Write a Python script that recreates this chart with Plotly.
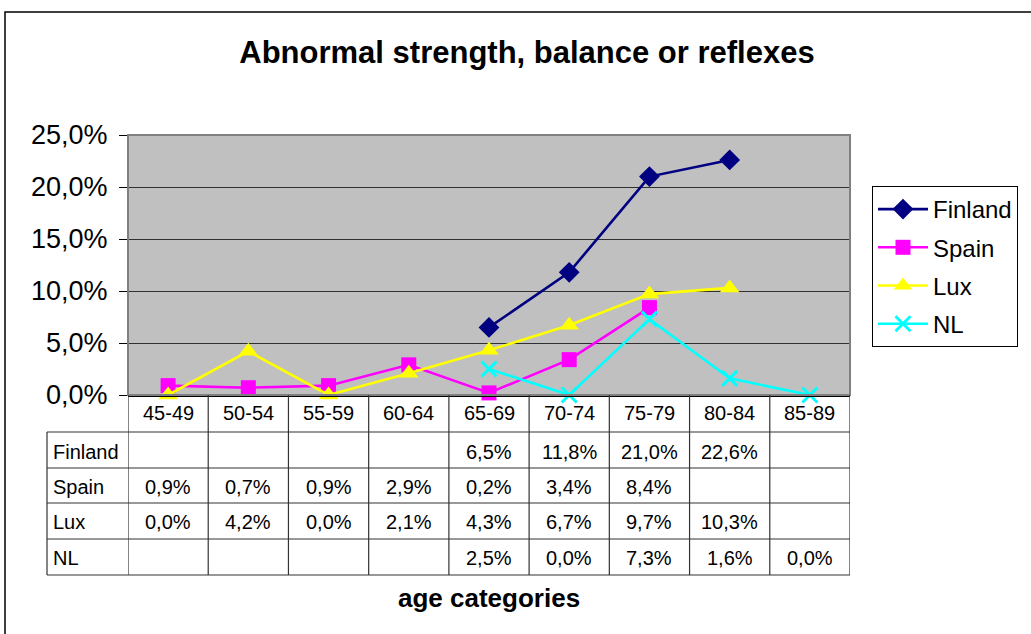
import plotly.graph_objects as go

categories = ["45-49", "50-54", "55-59", "60-64", "65-69", "70-74", "75-79", "80-84", "85-89"]
finland = [None, None, None, None, 6.5, 11.8, 21.0, 22.6, None]
spain = [0.9, 0.7, 0.9, 2.9, 0.2, 3.4, 8.4, None, None]
lux = [0.0, 4.2, 0.0, 2.1, 4.3, 6.7, 9.7, 10.3, None]
nl = [None, None, None, None, 2.5, 0.0, 7.3, 1.6, 0.0]
y_ticks = [0, 5, 10, 15, 20, 25]

series = [
    ("Finland", finland, "#000080", "diamond", 16),
    ("Spain", spain, "#FF00FF", "square", 15),
    ("Lux", lux, "#FFFF00", "triangle-up", 17),
    ("NL", nl, "#00FFFF", "x-thin", 15),
]

W, H = 1031, 634
L, R, T, B = 128, 850, 135, 395
pw, ph = R - L, B - T

def py(pix):
    return (B - pix) / ph

def px(pix):
    return (pix - L) / pw

xs = list(range(len(categories)))
fig = go.Figure()
for i, (name, vals, col, sym, sz) in enumerate(series):
    fig.add_trace(go.Scatter(
        x=xs, y=[v / 100 if v is not None else None for v in vals],
        mode="lines+markers", name=name, legendgroup=name,
        line=dict(color=col, width=2.6),
        marker=dict(symbol=sym, size=sz, color=col,
                    line=dict(color=col, width=3 if sym == "x-thin" else 0)),
        connectgaps=False, cliponaxis=False,
    ))

fnt = "Liberation Sans, Arial, sans-serif"
shapes = []
annotations = []
# plot area border
shapes.append(dict(type="rect", xref="paper", yref="paper", x0=0, x1=1, y0=0, y1=1,
                   line=dict(color="#808080", width=2), layer="above"))
# outer chart border
shapes.append(dict(type="rect", xref="paper", yref="paper", x0=px(5), x1=px(1045), y0=py(12), y1=py(650),
                   line=dict(color="#000000", width=1.5)))
# table
row_lines = [432, 468, 503, 539, 575]
for yl in row_lines:
    shapes.append(dict(type="line", xref="paper", yref="paper", x0=px(47), x1=1, y0=py(yl), y1=py(yl),
                       line=dict(color="#333333", width=1.2)))
for k in range(len(categories) + 1):
    shapes.append(dict(type="line", xref="x", yref="paper", x0=k - 0.5, x1=k - 0.5, y0=0, y1=py(575),
                       line=dict(color="#333333", width=1.2)))
shapes.append(dict(type="line", xref="paper", yref="paper", x0=px(47), x1=px(47), y0=py(432), y1=py(575),
                   line=dict(color="#333333", width=1.2)))

row_centers = [452, 487, 522, 558]
tfont = dict(size=20, color="black", family=fnt)
for i, c in enumerate(categories):
    annotations.append(dict(x=i, y=py(413), xref="x", yref="paper", text=c, showarrow=False,
                            yanchor="middle", font=tfont))
for r, (name, vals, col, sym, sz) in enumerate(series):
    annotations.append(dict(x=px(51), y=py(row_centers[r]), xref="paper", yref="paper", text=name,
                            showarrow=False, xanchor="left", yanchor="middle", font=tfont))
    for i, v in enumerate(vals):
        if v is None:
            continue
        annotations.append(dict(x=i, y=py(row_centers[r]), xref="x", yref="paper",
                                text=f"{v:.1f}%".replace(".", ","), showarrow=False,
                                yanchor="middle", font=tfont))
annotations.append(dict(x=px(489), y=py(598), xref="paper", yref="paper", text="<b>age categories</b>",
                        showarrow=False, yanchor="middle", font=dict(size=26, color="black", family=fnt)))

fig.update_layout(
    width=W, height=H,
    margin=dict(l=L, r=W - R, t=T, b=H - B, pad=0),
    paper_bgcolor="white", plot_bgcolor="#C0C0C0",
    separators=", ",
    title=dict(text="<b>Abnormal strength, balance or reflexes</b>", x=527 / W, xanchor="center",
               y=1 - 52 / H, yanchor="middle", font=dict(size=31, color="black", family=fnt)),
    xaxis=dict(range=[-0.5, len(categories) - 0.5], showticklabels=False, showgrid=False,
               zeroline=False, showline=True, linecolor="black", linewidth=1.5, ticks="",
               automargin=False),
    yaxis=dict(range=[0, 0.25], tickvals=[t / 100 for t in y_ticks], tickformat=".1%",
               showgrid=True, gridcolor="#303030", gridwidth=1.4, zeroline=False,
               showline=False, ticks="outside", ticklen=8, tickcolor="black",
               ticklabelstandoff=6, automargin=False,
               tickfont=dict(size=27, color="black", family=fnt)),
    legend=dict(x=px(872), y=py(186), xanchor="left", yanchor="top",
                bordercolor="black", borderwidth=1, bgcolor="white",
                font=dict(size=24, color="black", family=fnt),
                tracegroupgap=4, itemwidth=50),
    shapes=shapes, annotations=annotations,
)
fig.write_html("out.html", config={"displayModeBar": False},
               post_script="document.body.style.margin='0px';document.body.style.overflow='hidden';")
